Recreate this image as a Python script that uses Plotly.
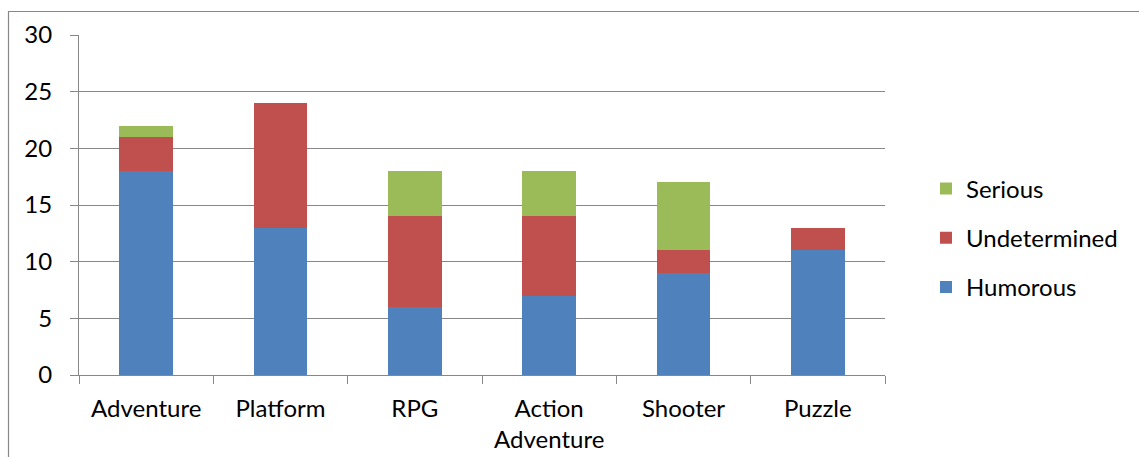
import plotly.graph_objects as go

genres = ["Adventure", "Platform", "RPG", "Action<br>Adventure", "Shooter", "Puzzle"]
humorous = [18, 13, 6, 7, 9, 11]
undetermined = [3, 11, 8, 7, 2, 2]
serious = [1, 0, 4, 4, 6, 0]

W, H = 1139, 457
L, R, T, B = 79, 254, 35, 82
pw, ph = W - L - R, H - T - B

FONT = "Lato"
GRID = "#878787"

fig = go.Figure()
for name, vals, color, rank in [
    ("Humorous", humorous, "#4F81BD", 3),
    ("Undetermined", undetermined, "#C0504D", 2),
    ("Serious", serious, "#9BBB59", 1),
]:
    fig.add_trace(go.Bar(x=genres, y=vals, name=name, marker=dict(color=color, line=dict(width=0)),
                         legendgroup=name, legendrank=rank))

# outer chart frame
def px_x(v):
    return (v - L) / pw

def px_y(v):
    return (H - B - v) / ph

fig.add_shape(type="rect", xref="paper", yref="paper",
              x0=px_x(8.5), x1=px_x(1160), y0=px_y(480), y1=px_y(11.5),
              line=dict(color=GRID, width=1.2), fillcolor="rgba(0,0,0,0)", layer="below")

fig.update_layout(
    width=W, height=H,
    margin=dict(l=L, r=R, t=T, b=B, pad=0, autoexpand=False),
    barmode="stack", bargap=0.6,
    plot_bgcolor="white", paper_bgcolor="white",
    font=dict(family=FONT, size=24, color="black"),
    showlegend=True,
    legend=dict(traceorder="grouped", tracegroupgap=15,
                x=px_x(926), xanchor="left", y=px_y(238), yanchor="middle",
                font=dict(family=FONT, size=24), itemwidth=30),
    xaxis=dict(showline=True, linecolor=GRID, linewidth=1.2, ticks="outside",
               tickson="boundaries", ticklen=8, tickcolor=GRID, tickwidth=1.2,
               showgrid=False, zeroline=False, ticklabelstandoff=12, automargin=False),
    yaxis=dict(range=[0, 30], dtick=5, showline=True, linecolor=GRID, linewidth=1.2,
               ticks="outside", ticklen=8, tickcolor=GRID, tickwidth=1.2,
               showgrid=True, gridcolor=GRID, gridwidth=1.2, zeroline=False,
               ticklabelstandoff=13, automargin=False),
)

fig.write_html("out.html")
